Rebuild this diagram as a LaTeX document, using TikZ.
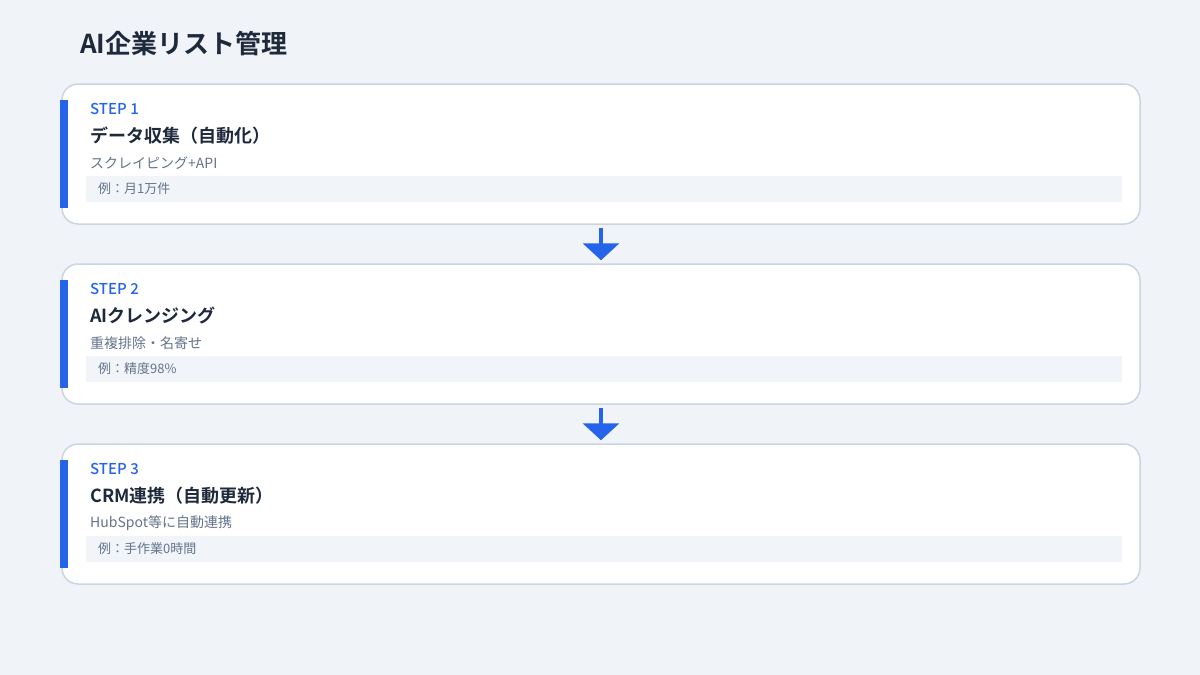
\documentclass[tikz,border=0pt]{standalone}
\usepackage{fontspec}
\setmainfont{Noto Sans CJK JP}[BoldFont={Noto Sans CJK JP Bold}]
\newfontfamily\stepfont{Noto Sans CJK JP Medium}
\usepackage{xcolor}
\usetikzlibrary{positioning}
\usetikzlibrary{arrows.meta}
\definecolor{pageBg}{HTML}{F0F4F9}
\definecolor{cardLine}{HTML}{CBD5E1}
\definecolor{stepBlue}{HTML}{2563EB}
\definecolor{inkDark}{HTML}{1E293B}
\definecolor{inkGray}{HTML}{64748B}
\definecolor{exampleBg}{HTML}{F1F5F9}

\begin{document}
\begin{tikzpicture}[x = 1pt, y = -1pt]
\tikzstyle{cardStyle} = [draw = cardLine, line width = 1.5pt, fill = white, rounded corners = 16pt, minimum width = 1078pt, minimum height = 140pt, inner sep = 0pt]
\tikzstyle{barStyle} = [fill = stepBlue, minimum width = 8pt, minimum height = 108pt, inner sep = 0pt]
\tikzstyle{exampleBoxStyle} = [fill = exampleBg, minimum width = 1036pt, minimum height = 26pt, inner sep = 0pt]
\tikzstyle{titleStyle} = [anchor = west, inner sep = 0pt, text = inkDark, font = \fontsize{26}{30}\selectfont\bfseries]
\tikzstyle{stepStyle} = [anchor = west, inner sep = 0pt, text = stepBlue, font = \fontsize{15}{18}\stepfont]
\tikzstyle{headStyle} = [anchor = west, inner sep = 0pt, text = inkDark, font = \fontsize{18}{21}\selectfont\bfseries]
\tikzstyle{subStyle} = [anchor = west, inner sep = 0pt, text = inkGray, font = \fontsize{14}{17}\selectfont]
\tikzstyle{exampleStyle} = [anchor = west, inner sep = 0pt, text = inkGray, font = \fontsize{13}{15}\selectfont]
\tikzstyle{flowStyle} = [draw = stepBlue, line width = 4pt, -{Triangle[width = 36pt, length = 17pt]}, shorten < = 3pt, shorten > = 3pt]
\useasboundingbox[fill = pageBg] (0,0) rectangle (1200,675);
\node[titleStyle] (title) at (80,44) {AI企業リスト管理};
% step 1
\node[cardStyle] (card1) at (601,154) {};
\node[barStyle] (bar1) at (64,154) {};
\node[stepStyle] (step1) at (90,109) {STEP 1};
\node[headStyle] (head1) at (90,136) {データ収集（自動化）};
\node[subStyle] (sub1) at (90,163) {スクレイピング+API};
\node[exampleBoxStyle] (box1) at (604,189) {};
\node[exampleStyle] (ex1) at (98,189) {例：月1万件};
% step 2
\node[cardStyle] (card2) at (601,334) {};
\node[barStyle] (bar2) at (64,334) {};
\node[stepStyle] (step2) at (90,289) {STEP 2};
\node[headStyle] (head2) at (90,316) {AIクレンジング};
\node[subStyle] (sub2) at (90,343) {重複排除・名寄せ};
\node[exampleBoxStyle] (box2) at (604,369) {};
\node[exampleStyle] (ex2) at (98,369) {例：精度98\%};
% step 3
\node[cardStyle] (card3) at (601,514) {};
\node[barStyle] (bar3) at (64,514) {};
\node[stepStyle] (step3) at (90,469) {STEP 3};
\node[headStyle] (head3) at (90,496) {CRM連携（自動更新）};
\node[subStyle] (sub3) at (90,523) {HubSpot等に自動連携};
\node[exampleBoxStyle] (box3) at (604,549) {};
\node[exampleStyle] (ex3) at (98,549) {例：手作業0時間};
\draw[flowStyle] (card1.south) -- (card2.north);
\draw[flowStyle] (card2.south) -- (card3.north);
\end{tikzpicture}
\end{document}
